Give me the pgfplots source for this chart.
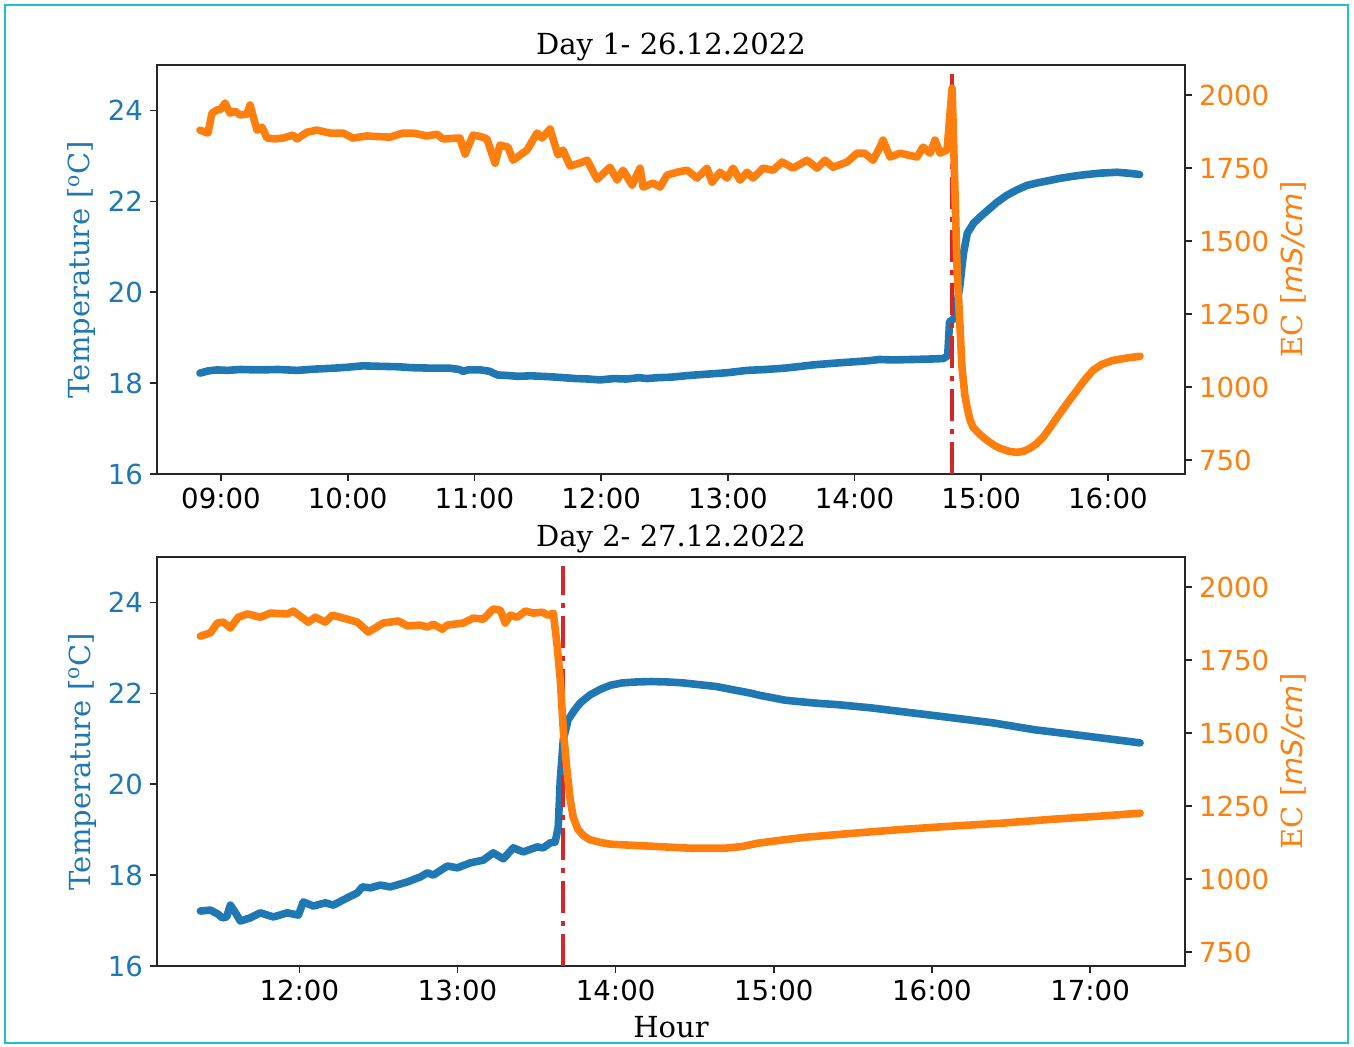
\documentclass[border=0pt]{standalone}
\usepackage{fontspec}
\setmainfont{DejaVu Serif}
\newfontfamily\dvsans{DejaVu Sans}
\usepackage{pgfplots}
\pgfplotsset{compat=1.18}
\usepackage{pgfplotstable}

\definecolor{tblue}{HTML}{1F77B4}
\definecolor{torange}{HTML}{FF7F0E}
\definecolor{tred}{HTML}{D62728}
\definecolor{framecol}{RGB}{30,190,215}

% day 1: hour, temperature
\pgfplotstableread{
h T
8.834 18.22
8.90 18.27
8.97 18.29
9.05 18.28
9.15 18.30
9.30 18.29
9.45 18.30
9.60 18.28
9.75 18.31
9.90 18.33
10.00 18.35
10.12 18.38
10.25 18.37
10.40 18.36
10.50 18.34
10.65 18.33
10.80 18.33
10.88 18.30
10.91 18.26
10.95 18.29
11.05 18.29
11.12 18.26
11.18 18.18
11.25 18.17
11.34 18.15
11.45 18.16
11.60 18.14
11.70 18.12
11.80 18.10
11.90 18.09
11.99 18.07
12.10 18.10
12.20 18.09
12.30 18.12
12.36 18.10
12.45 18.12
12.55 18.13
12.70 18.17
12.80 18.19
12.90 18.21
13.00 18.23
13.15 18.28
13.30 18.30
13.45 18.33
13.55 18.36
13.67 18.40
13.80 18.43
13.95 18.46
14.10 18.49
14.20 18.52
14.30 18.51
14.46 18.52
14.60 18.53
14.70 18.54
14.735 18.60
14.75 19.35
14.79 19.43
14.83 20.12
14.86 20.86
14.89 21.30
14.94 21.52
15.00 21.68
15.05 21.80
15.12 21.97
15.20 22.13
15.28 22.25
15.36 22.35
15.45 22.41
15.54 22.46
15.63 22.51
15.72 22.55
15.83 22.59
15.94 22.62
16.07 22.64
16.16 22.62
16.25 22.59
}\dayoneT

% day 1: hour, EC
\pgfplotstableread{
h EC
8.834 1880
8.897 1870
8.929 1938
8.968 1949
9.000 1952
9.032 1973
9.071 1938
9.110 1945
9.150 1932
9.205 1935
9.229 1966
9.284 1880
9.324 1890
9.363 1853
9.430 1850
9.489 1853
9.568 1863
9.600 1850
9.679 1873
9.758 1880
9.860 1870
9.963 1870
10.042 1853
10.152 1860
10.334 1856
10.436 1870
10.515 1870
10.626 1860
10.705 1866
10.752 1850
10.886 1853
10.926 1798
10.989 1863
11.050 1858
11.099 1850
11.163 1767
11.202 1829
11.265 1822
11.305 1777
11.415 1812
11.494 1870
11.534 1853
11.597 1884
11.660 1795
11.699 1812
11.755 1757
11.830 1767
11.890 1777
11.968 1712
12.070 1753
12.126 1709
12.173 1743
12.244 1692
12.307 1750
12.331 1685
12.410 1699
12.465 1685
12.520 1726
12.599 1736
12.678 1743
12.757 1716
12.836 1750
12.875 1702
12.938 1736
12.994 1716
13.041 1750
13.096 1709
13.152 1736
13.199 1716
13.278 1750
13.357 1743
13.428 1771
13.515 1750
13.625 1777
13.704 1750
13.767 1777
13.830 1753
13.941 1771
14.020 1801
14.080 1801
14.146 1777
14.201 1822
14.225 1846
14.280 1788
14.359 1801
14.493 1788
14.541 1822
14.596 1801
14.635 1846
14.675 1801
14.730 1812
14.770 2024
14.809 1411
14.848 1068
14.870 975
14.888 932
14.910 890
14.935 863
14.990 838
15.046 818
15.100 802
15.148 791
15.215 781
15.283 777
15.335 781
15.385 791
15.435 806
15.488 829
15.550 866
15.622 911
15.690 952
15.756 990
15.820 1027
15.882 1058
15.950 1078
16.040 1092
16.150 1100
16.253 1106
}\dayoneEC

% day 2: hour, temperature
\pgfplotstableread{
h T
11.374 17.21
11.437 17.23
11.482 17.15
11.513 17.06
11.540 17.08
11.564 17.34
11.600 17.15
11.627 16.99
11.690 17.06
11.753 17.17
11.836 17.08
11.924 17.17
11.994 17.12
12.025 17.41
12.088 17.32
12.164 17.39
12.215 17.34
12.303 17.50
12.367 17.61
12.398 17.74
12.449 17.72
12.512 17.78
12.575 17.74
12.683 17.85
12.765 17.96
12.809 18.05
12.847 18.00
12.936 18.20
12.999 18.16
13.081 18.27
13.163 18.33
13.226 18.49
13.290 18.36
13.353 18.60
13.416 18.51
13.504 18.62
13.542 18.60
13.587 18.71
13.618 18.73
13.637 19.06
13.650 20.10
13.669 20.98
13.700 21.42
13.740 21.63
13.776 21.79
13.840 21.97
13.910 22.10
13.970 22.18
14.042 22.23
14.130 22.25
14.225 22.26
14.330 22.25
14.427 22.23
14.530 22.19
14.636 22.15
14.740 22.08
14.845 22.01
14.920 21.95
14.996 21.90
15.070 21.85
15.154 21.82
15.280 21.78
15.407 21.75
15.616 21.68
15.875 21.57
16.134 21.46
16.387 21.35
16.646 21.20
16.905 21.09
17.114 21.00
17.316 20.91
}\daytwoT

% day 2: hour, EC
\pgfplotstableread{
h EC
11.374 1832
11.437 1843
11.482 1877
11.520 1880
11.564 1860
11.614 1897
11.671 1908
11.753 1897
11.817 1911
11.924 1908
11.962 1918
12.057 1880
12.101 1897
12.164 1880
12.209 1904
12.303 1890
12.367 1880
12.436 1846
12.531 1877
12.626 1884
12.683 1867
12.765 1870
12.809 1863
12.847 1873
12.904 1856
12.936 1870
13.037 1877
13.100 1894
13.163 1890
13.226 1925
13.271 1921
13.302 1877
13.334 1904
13.378 1897
13.429 1918
13.479 1911
13.536 1914
13.574 1904
13.606 1911
13.631 1795
13.650 1682
13.669 1510
13.694 1363
13.713 1271
13.732 1212
13.760 1172
13.795 1150
13.833 1136
13.903 1126
13.966 1120
14.225 1113
14.478 1106
14.687 1106
14.800 1112
14.895 1123
15.050 1134
15.205 1144
15.515 1158
15.824 1171
16.134 1182
16.444 1192
16.753 1205
17.063 1216
17.316 1226
}\daytwoEC

\pgfplotsset{
  panel/.style={
    scale only axis, width=514pt, height=204.5pt, anchor=south west,
    tick align=outside, major tick length=3.5pt,
    tick style={black!85, line width=0.8pt},
    axis line style={black!85, line width=0.8pt},
    tick label style={font=\dvsans\fontsize{13.8}{16}\selectfont},
    /pgf/number format/assume math mode=true,
    /pgf/number format/1000 sep={},
    title style={font=\fontsize{14.5}{17}\selectfont, at={(0.5,1)}, anchor=base, yshift=-0.5pt},
    label style={font=\fontsize{14.5}{17}\selectfont},
    scaled y ticks=false,
  },
  leftax/.style={panel,
    ymin=16, ymax=25, ytick={16,18,...,24},
    xtick pos=bottom, ytick pos=left,
    yticklabel style={text=tblue},
    ylabel={Temperature [\textsuperscript{o}C]},
    ylabel style={text=tblue, at={(axis description cs:0,0.5)}, anchor=base, yshift=33.5pt},
  },
  rightax/.style={panel,
    ymin=703, ymax=2103, ytick={750,1000,...,2000},
    axis x line=none, axis y line*=right,
    yticklabel style={text=torange},
    ylabel={EC [{\dvsans\itshape mS/cm}]},
    ylabel style={text=torange, at={(axis description cs:1,0.5)}, anchor=base, yshift=-58.5pt},
  },
  tline/.style={tblue, line width=3.8pt, line join=round, line cap=round},
  ecline/.style={torange, line width=3.8pt, line join=round, line cap=round},
  vline/.style={tred, line width=2pt, dash pattern=on 16pt off 4pt on 2.5pt off 4pt},
}

\begin{document}
\begin{tikzpicture}
\useasboundingbox (0,0) rectangle (677pt,523pt);
\draw[framecol, line width=1.3pt] (2.5pt,1.5pt) rectangle (674pt,520.5pt);

% Day 1
\begin{axis}[leftax, at={(78.5pt,286pt)},
  xmin=8.495, xmax=16.608, xtick={9,...,16},
  xticklabels={09:00,10:00,11:00,12:00,13:00,14:00,15:00,16:00},
  title={Day 1- 26.12.2022}]
  \addplot[tline] table[x=h, y=T] {\dayoneT};
  \addplot[vline] coordinates {(14.77,16) (14.77,24.8)};
\end{axis}
\begin{axis}[rightax, at={(78.5pt,286pt)}, xmin=8.495, xmax=16.608]
  \addplot[ecline] table[x=h, y=EC] {\dayoneEC};
\end{axis}

% Day 2
\begin{axis}[leftax, at={(78.5pt,40pt)},
  xmin=11.10, xmax=17.60, xtick={12,...,17},
  xticklabels={12:00,13:00,14:00,15:00,16:00,17:00},
  title={Day 2- 27.12.2022},
  xlabel={Hour},
  xlabel style={at={(axis description cs:0.5,0)}, anchor=base, yshift=-35.5pt}]
  \addplot[tline] table[x=h, y=T] {\daytwoT};
  \addplot[vline] coordinates {(13.67,16) (13.67,24.8)};
\end{axis}
\begin{axis}[rightax, at={(78.5pt,40pt)}, xmin=11.10, xmax=17.60]
  \addplot[ecline] table[x=h, y=EC] {\daytwoEC};
\end{axis}
\end{tikzpicture}
\end{document}
